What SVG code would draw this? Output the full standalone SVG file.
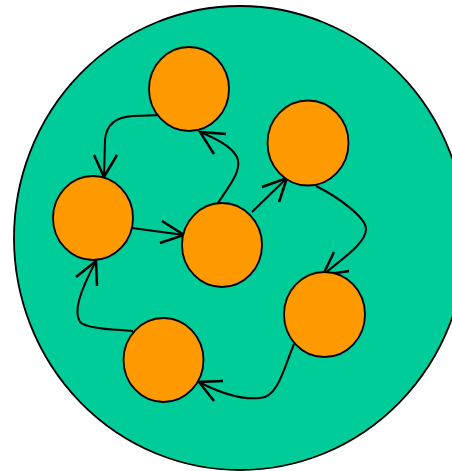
<svg xmlns="http://www.w3.org/2000/svg" width="452" height="471" viewBox="0 0 452 471">
<style>
.node{fill:#FF9900;stroke:#000;stroke-width:1.8}
.edge{fill:none;stroke:#000;stroke-width:2}
.head{fill:none;stroke:#000;stroke-width:2.5}
</style>
<ellipse id="outer" cx="240" cy="238" rx="226" ry="232" fill="#00CC99" stroke="#000" stroke-width="1.8"/>
<g id="connectors">
<path class="edge" d="M162,115 L133,116 C113,117 106,127 105,140 L104,177"/>
<path class="head" d="M94,155 L104,177 L117,155"/>
<path class="edge" d="M218,203 C232,182 240,172 238,160 C235,148 215,138 200,132"/>
<path class="head" d="M226,134 L200,132 L214,154"/>
<path class="edge" d="M132,228 L184,235"/>
<path class="head" d="M162,221 L184,235 L160,243"/>
<path class="edge" d="M252,212 L287,178"/>
<path class="head" d="M262,187 L287,178 L279,202"/>
<path class="edge" d="M316,186 C340,198 366,218 366,229 C366,244 340,260 323,275"/>
<path class="head" d="M334,252 L323,275 L349,271"/>
<path class="edge" d="M294,344 C285,365 278,398 260,398 C240,400 220,393 199,382"/>
<path class="head" d="M223,381 L199,382 L214,401"/>
<path class="edge" d="M133,331 L120,330 C100,329 85,327 80,322 C74,312 78,295 96,261"/>
<path class="head" d="M76,277 L96,261 L97,286"/>
</g>
<g id="n1"><ellipse class="node" cx="189" cy="89" rx="40" ry="42"/></g>
<g id="n2"><ellipse class="node" cx="308" cy="143" rx="40.5" ry="42.5"/></g>
<g id="n3"><ellipse class="node" cx="93" cy="218" rx="40" ry="42"/></g>
<g id="n4"><ellipse class="node" cx="222" cy="245" rx="40" ry="42"/></g>
<g id="n5"><ellipse class="node" cx="324.5" cy="314.5" rx="40.5" ry="42.5"/></g>
<g id="n6"><ellipse class="node" cx="163.5" cy="360" rx="40" ry="42"/></g>
</svg>
